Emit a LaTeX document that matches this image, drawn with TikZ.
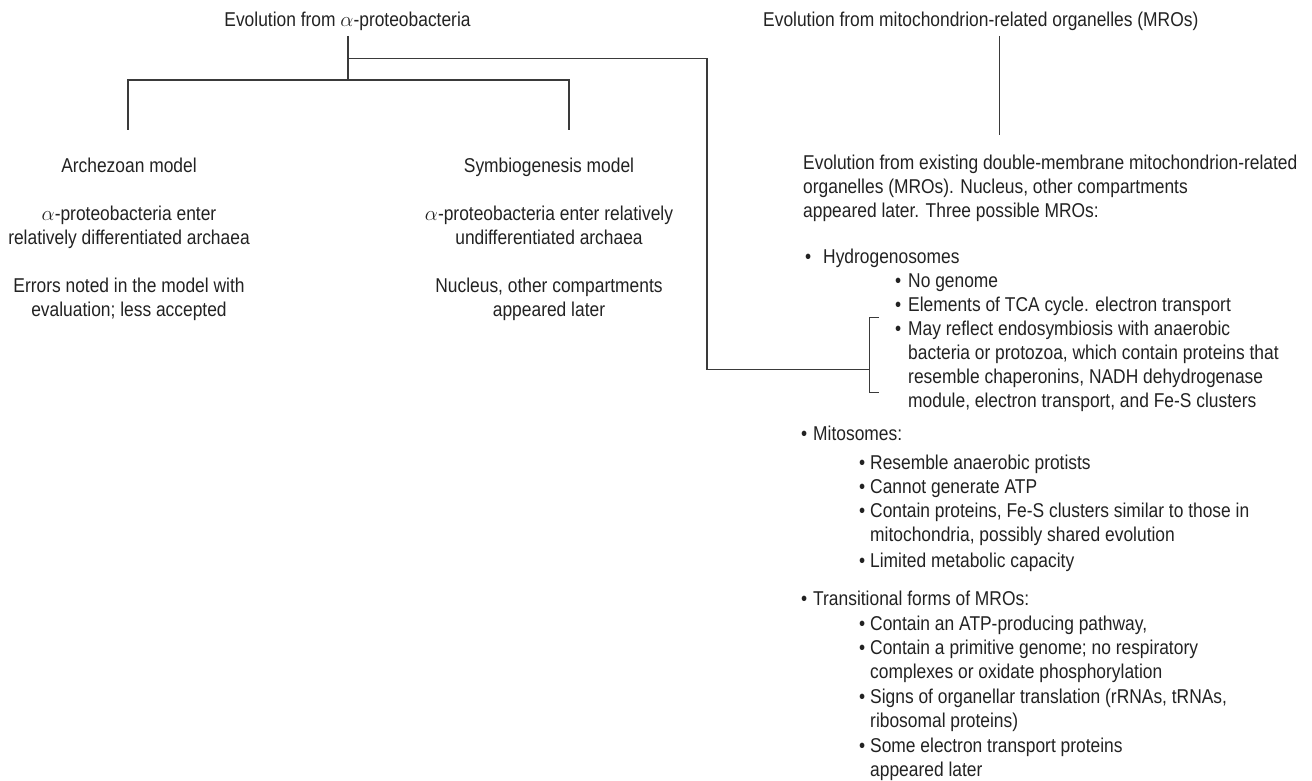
\documentclass[tikz,border=0pt]{standalone}
\usepackage{fontspec}
\setmainfont[FakeStretch=0.87]{Liberation Sans}
\definecolor{ink}{RGB}{34,34,34}
\definecolor{wire}{RGB}{58,58,58}
% bullet hung to the left of an item, followed by a gap of #1 pt
\newcommand\bul[1]{\llap{\textbullet\hspace{#1pt}}}
% stacked lines whose baseline is the first line's baseline
\newcommand\stackL[1]{\begin{tabular}[t]{@{}l@{}}#1\end{tabular}}
\newcommand\stackC[1]{\begin{tabular}[t]{@{}c@{}}#1\end{tabular}}
\tikzset{
  txt/.style={inner sep=0pt, text=ink, font=\fontsize{20}{24.3}\selectfont},
  ctr/.style={txt, anchor=base},
  lft/.style={txt, anchor=base west},
  wireline/.style={draw=wire, line width=1.2pt}
}
\begin{document}
\begin{tikzpicture}[x=1pt,y=-1pt]
\useasboundingbox (0,0) rectangle (1312,781);

% ---- left tree: evolution from alpha-proteobacteria
\node[ctr] (evoA) at (347.5,27) {Evolution from $\alpha$-proteobacteria};
\node[ctr] (arch)  at (129,172) {Archezoan model};
\node[ctr] (archA) at (129,220) {\stackC{$\alpha$-proteobacteria enter\\relatively differentiated archaea}};
\node[ctr] (archB) at (129,292) {\stackC{Errors noted in the model with\\evaluation; less accepted}};
\node[ctr] (sym)   at (549,172) {Symbiogenesis model};
\node[ctr] (symA)  at (549,220) {\stackC{$\alpha$-proteobacteria enter relatively\\undifferentiated archaea}};
\node[ctr] (symB)  at (549,292) {\stackC{Nucleus, other compartments\\appeared later}};

\coordinate (rootA)   at (348,36);
\coordinate (forkA)   at (348,80);
\coordinate (legL)    at (128,130);
\coordinate (legS)    at (569,130);
\coordinate (branchR) at (348,58.7);
\coordinate (elbow)   at (707,58.7);
\coordinate (brk)     at (869.3,369.3);
\coordinate (brkTop)  at (879,317.3);
\coordinate (brkBot)  at (879,392.3);

\draw[wireline] (rootA) -- (forkA);
\draw[wireline] (legL) |- (forkA) -| (legS);
\draw[wireline] (branchR) -- (elbow) |- (brk);
\draw[wireline] (brkTop) -| (brk) |- (brkBot);

% ---- right tree: evolution from MROs
\node[lft] (evoM) at (763,27) {Evolution from mitochondrion-related organelles (MROs)};
\coordinate (rootM) at (999.3,36);
\coordinate (footM) at (999.3,135);
\draw[wireline] (rootM) -- (footM);

\node[lft] (mro) at (803,169) {\stackL{Evolution from existing double-membrane mitochondrion-related\\organelles (MROs). Nucleus, other compartments\\appeared later. Three possible MROs:}};

\node[lft] (hyd) at (823,263) {\bul{12}Hydrogenosomes};
\node[lft] (h1) at (908,287) {\bul{7}No genome};
\node[lft] (h2) at (908,311) {\bul{7}Elements of TCA cycle. electron transport};
\node[lft] (h3) at (908,335) {\stackL{\bul{7}May reflect endosymbiosis with anaerobic\\bacteria or protozoa, which contain proteins that\\resemble chaperonins, NADH dehydrogenase\\module, electron transport, and Fe-S clusters}};

\node[lft] (mit) at (813,440) {\bul{6}Mitosomes:};
\node[lft] (m1) at (870,469) {\bul{5}Resemble anaerobic protists};
\node[lft] (m2) at (870,493) {\bul{5}Cannot generate ATP};
\node[lft] (m3) at (870,517) {\stackL{\bul{5}Contain proteins, Fe-S clusters similar to those in\\mitochondria, possibly shared evolution}};
\node[lft] (m4) at (870,567) {\bul{5}Limited metabolic capacity};

\node[lft] (tra) at (813,605) {\bul{6}Transitional forms of MROs:};
\node[lft] (t1) at (870,630) {\bul{5}Contain an ATP-producing pathway,};
\node[lft] (t2) at (870,654) {\stackL{\bul{5}Contain a primitive genome; no respiratory\\complexes or oxidate phosphorylation}};
\node[lft] (t3) at (870,703) {\stackL{\bul{5}Signs of organellar translation (rRNAs, tRNAs,\\ribosomal proteins)}};
\node[lft] (t4) at (870,752) {\stackL{\bul{5}Some electron transport proteins\\appeared later}};
\end{tikzpicture}
\end{document}
